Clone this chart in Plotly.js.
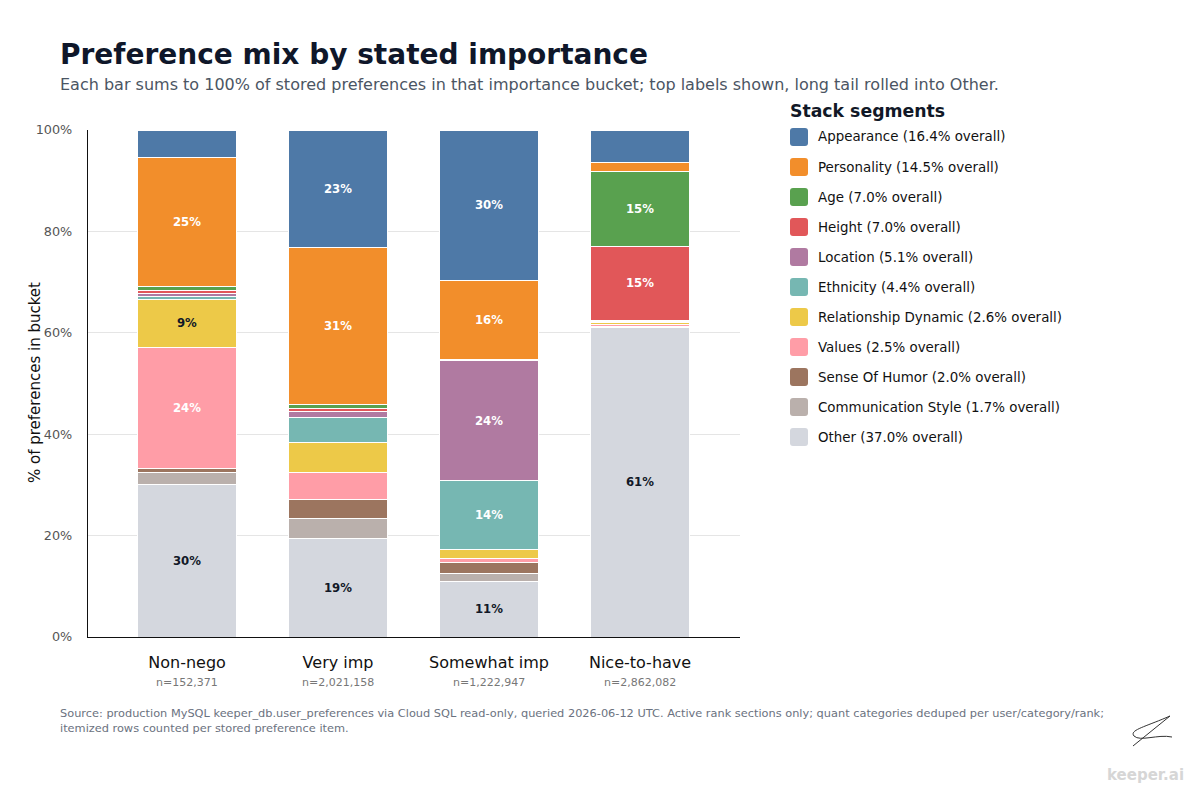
<!DOCTYPE html>
<html>
<head>
<meta charset="utf-8">
<script src="https://cdn.plot.ly/plotly-3.0.1.min.js"></script>
<style>html,body{margin:0;padding:0;background:#fff;}#chart{width:1200px;height:800px;}</style>
</head>
<body>
<div id="chart"></div>
<script>
// ---- data ----
const buckets = ["Non-nego", "Very imp", "Somewhat imp", "Nice-to-have"];
const bucketN = ["n=152,371", "n=2,021,158", "n=1,222,947", "n=2,862,082"];
const segments = ["Appearance", "Personality", "Age", "Height", "Location", "Ethnicity",
  "Relationship Dynamic", "Values", "Sense Of Humor", "Communication Style", "Other"];
const overallPct = [16.4, 14.5, 7.0, 7.0, 5.1, 4.4, 2.6, 2.5, 2.0, 1.7, 37.0];
const appearancePct    = [5.5, 23.1, 29.6, 6.5];
const personalityPct   = [25.4, 31.1, 15.6, 1.7];
const agePct           = [0.8, 0.8, 0.1, 14.7];
const heightPct        = [0.5, 0.6, 0.1, 14.6];
const locationPct      = [0.6, 1.1, 23.8, 0.2];
const ethnicityPct     = [0.6, 5.0, 13.6, 0.2];
const relDynamicPct    = [9.4, 5.9, 1.8, 0.5];
const valuesPct        = [24.0, 5.2, 0.8, 0.3];
const senseOfHumorPct  = [0.8, 3.9, 2.1, 0.1];
const communicationPct = [2.3, 3.9, 1.6, 0.2];
const otherPct         = [30.1, 19.4, 10.9, 61.0];
const tickVals = [0, 20, 40, 60, 80, 100];

// ---- styles ----
const seriesValues = [appearancePct, personalityPct, agePct, heightPct, locationPct, ethnicityPct,
  relDynamicPct, valuesPct, senseOfHumorPct, communicationPct, otherPct];
const colors = ["#4E79A7", "#F28E2B", "#59A14F", "#E15759", "#B07AA1", "#76B7B2", "#EDC948", "#FF9DA7", "#9C755F", "#BAB0AC", "#D4D7DE"];
const darkText = {"Relationship Dynamic": true, "Other": true};
const FONT = "DejaVu Sans, sans-serif";

// plot area in pixels
const L = 88, R = 740, T = 130, B = 637;
const W = R - L, H = B - T;
const px = p => (p - L) / W;
const py = p => (B - p) / H;

const traces = [];
for (let i = segments.length - 1; i >= 0; i--) {
  const v = seriesValues[i];
  traces.push({
    type: "bar",
    name: segments[i],
    x: buckets,
    y: v,
    width: 0.656,
    marker: {color: colors[i], line: {color: "#ffffff", width: 1}},
    text: v.map(d => d >= 8 ? Math.round(d) + "%" : ""),
    textposition: "inside",
    insidetextanchor: "middle",
    constraintext: "none",
    textfont: {family: FONT, size: 11.7, weight: "bold", color: darkText[segments[i]] ? "#111827" : "#ffffff"},
    hoverinfo: "name+y",
    showlegend: false
  });
}

const shapes = [];
const annotations = [];

function pathFromPx(cmds) {
  return cmds.map(c => {
    let s = c[0];
    for (let k = 1; k < c.length; k += 2) s += " " + px(c[k]).toFixed(5) + "," + py(c[k + 1]).toFixed(5);
    return s;
  }).join(" ");
}
function rrPath(x0, y0, x1, y1, r) {
  return pathFromPx([
    ["M", x0 + r, y0], ["L", x1 - r, y0], ["Q", x1, y0, x1, y0 + r], ["L", x1, y1 - r],
    ["Q", x1, y1, x1 - r, y1], ["L", x0 + r, y1], ["Q", x0, y1, x0, y1 - r], ["L", x0, y0 + r],
    ["Q", x0, y0, x0 + r, y0]
  ]) + " Z";
}

// n= labels under categories
buckets.forEach((b, i) => {
  annotations.push({
    xref: "x", yref: "paper", x: b, y: py(682), xanchor: "center", yanchor: "middle",
    text: bucketN[i], showarrow: false, font: {family: FONT, size: 11, color: "#777777"}
  });
});

// y-axis title
annotations.push({
  xref: "paper", yref: "paper", x: px(35), y: py(383), xanchor: "center", yanchor: "middle",
  textangle: -90, text: "% of preferences in bucket", showarrow: false,
  font: {family: FONT, size: 15, color: "#111111"}
});

// custom legend
annotations.push({
  xref: "paper", yref: "paper", x: px(788), y: py(111), xanchor: "left", yanchor: "middle",
  text: "<b>Stack segments</b>", showarrow: false, font: {family: FONT, size: 17.3, color: "#111827"}
});
segments.forEach((s, i) => {
  const cy = 137 + 30 * i;
  shapes.push({type: "path", xref: "paper", yref: "paper", path: rrPath(790, cy - 9, 808, cy + 9, 3),
    fillcolor: colors[i], line: {width: 0}});
  annotations.push({
    xref: "paper", yref: "paper", x: px(816), y: py(cy), xanchor: "left", yanchor: "middle",
    text: s + " (" + overallPct[i].toFixed(1) + "% overall)", showarrow: false,
    font: {family: FONT, size: 13.4, color: "#111111"}
  });
});

// subtitle
annotations.push({
  xref: "paper", yref: "paper", x: px(58), y: py(84), xanchor: "left", yanchor: "middle",
  text: "Each bar sums to 100% of stored preferences in that importance bucket; top labels shown, long tail rolled into Other.",
  showarrow: false, font: {family: FONT, size: 16, color: "#4b5563"}
});
// footer
annotations.push({
  xref: "paper", yref: "paper", x: px(58), y: py(704), xanchor: "left", yanchor: "top", align: "left",
  text: "Source: production MySQL keeper_db.user_preferences via Cloud SQL read-only, queried 2026-06-12 UTC. Active rank sections only; quant categories deduped per user/category/rank;<br>itemized rows counted per stored preference item.",
  showarrow: false, font: {family: FONT, size: 11.35, color: "#6b7280"}
});
// watermark
annotations.push({
  xref: "paper", yref: "paper", x: px(1145), y: py(775), xanchor: "center", yanchor: "middle",
  text: "<b>keeper.ai</b>", showarrow: false, font: {family: FONT, size: 15, color: "#d6d6d6"}
});
shapes.push({type: "path", xref: "paper", yref: "paper", line: {color: "#333333", width: 1},
  path: pathFromPx([["M", 1133, 746], ["L", 1170, 716]])});
shapes.push({type: "path", xref: "paper", yref: "paper", line: {color: "#333333", width: 1},
  path: pathFromPx([["M", 1172, 737], ["C", 1158, 734, 1140, 742, 1134, 736], ["C", 1129, 730, 1145, 727, 1170, 716]])});

const layout = {
  width: 1200, height: 800,
  margin: {l: L, r: 1200 - R, t: T, b: 800 - B, pad: 0},
  paper_bgcolor: "#ffffff", plot_bgcolor: "#ffffff",
  font: {family: FONT, color: "#111111"},
  barmode: "stack",
  showlegend: false,
  title: {
    text: "<b>Preference mix by stated importance</b>",
    xref: "container", yref: "container", x: 60 / 1200, y: 1 - 54 / 800,
    xanchor: "left", yanchor: "middle",
    font: {family: FONT, size: 28, color: "#0f172a"}
  },
  xaxis: {
    type: "category",
    range: [-0.656, 3.662],
    tickvals: buckets,
    ticktext: buckets,
    tickfont: {family: FONT, size: 16, color: "#111111"},
    showline: true, linecolor: "#111111", linewidth: 1.2,
    ticks: "", showgrid: false, zeroline: false,
    ticklabelstandoff: 11
  },
  yaxis: {
    range: [0, 100],
    tickvals: tickVals,
    ticktext: tickVals.map(t => t + "%"),
    tickfont: {family: FONT, size: 12.8, color: "#555555"},
    showline: true, linecolor: "#111111", linewidth: 1.2,
    showgrid: true, gridcolor: "#e5e5e5", gridwidth: 1,
    zeroline: false, ticks: "",
    ticklabelstandoff: 12
  },
  shapes: shapes,
  annotations: annotations
};

Plotly.newPlot("chart", traces, layout, {displayModeBar: false, staticPlot: true});
</script>
</body>
</html>
